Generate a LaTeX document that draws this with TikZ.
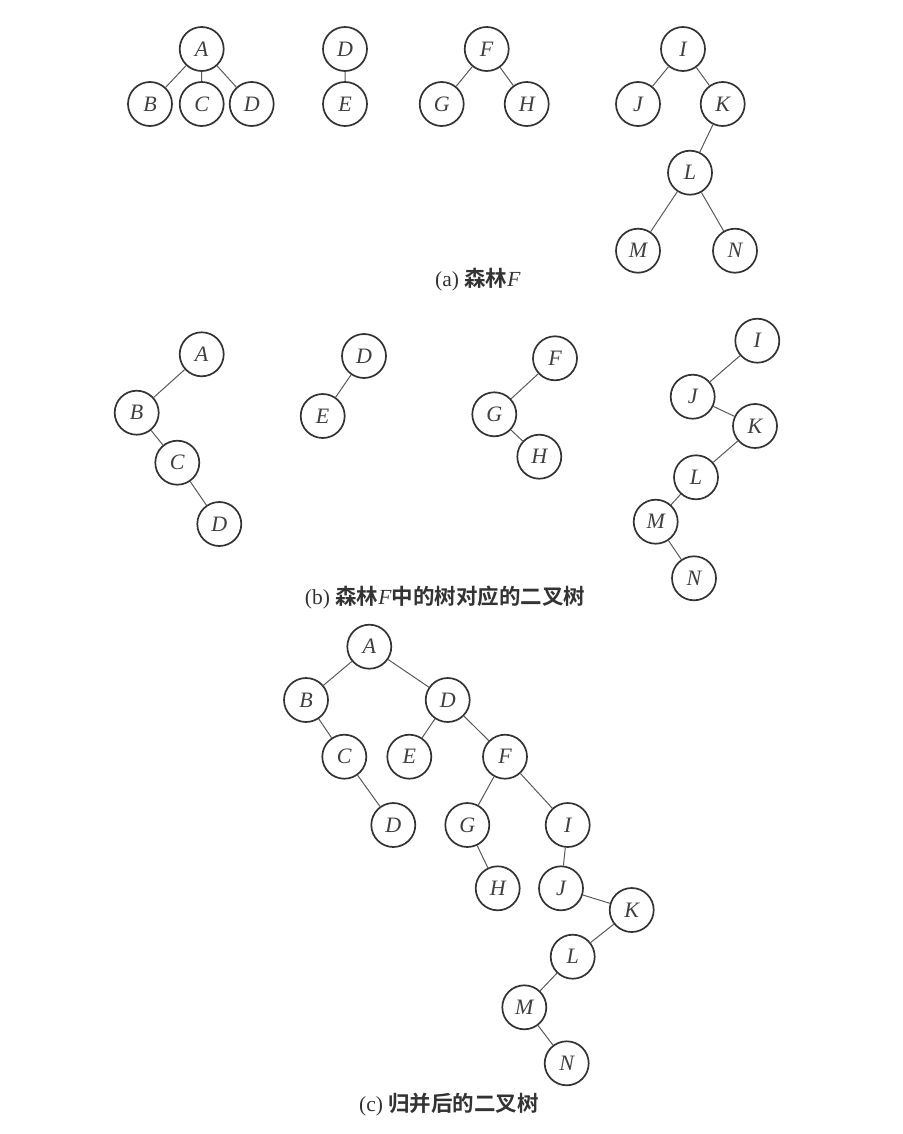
\documentclass[tikz,border=0pt]{standalone}
\usepackage{fontspec}
\setmainfont{Liberation Serif}
\newfontfamily\cjk{Noto Sans CJK SC}[BoldFont={* Bold}]
\tikzset{
  tn/.style={circle,draw=black!80,line width=1.7pt,minimum size=44pt,inner sep=0pt,
    font=\fontsize{22}{22}\selectfont\itshape,text=black!75},
  ed/.style={draw=black!65,line width=1pt},
  captxt/.style={font=\fontsize{21.5}{21.5}\selectfont,text=black!80}
}
\begin{document}
\begin{tikzpicture}[x=1pt,y=-1pt]
\useasboundingbox (0,0) rectangle (902,1134);
% (a)
\node[tn] (aA) at (201.7,49) {A};
\node[tn] (aB) at (150,104) {B};
\node[tn] (aC) at (201.7,104) {C};
\node[tn] (aD) at (251.7,104) {D};
\node[tn] (aD2) at (345,49) {D};
\node[tn] (aE) at (345,104) {E};
\node[tn] (aF) at (486.7,49) {F};
\node[tn] (aG) at (441.7,104) {G};
\node[tn] (aH) at (526.7,104) {H};
\node[tn] (aI) at (683,49) {I};
\node[tn] (aJ) at (638,104) {J};
\node[tn] (aK) at (722.7,104) {K};
\node[tn] (aL) at (690,172.7) {L};
\node[tn] (aM) at (638,250.7) {M};
\node[tn] (aN) at (735,250.7) {N};
\draw[ed] (aA)--(aB) (aA)--(aC) (aA)--(aD) (aD2)--(aE) (aF)--(aG) (aF)--(aH)
  (aI)--(aJ) (aI)--(aK) (aK)--(aL) (aL)--(aM) (aL)--(aN);
\node[captxt] (capa) at (478,280) {(a) {\cjk\bfseries 森林}\textit{F}};
% (b)
\node[tn] (bA) at (201.7,354.3) {A};
\node[tn] (bB) at (136.7,412.7) {B};
\node[tn] (bC) at (177.3,462.7) {C};
\node[tn] (bD) at (219.3,524) {D};
\node[tn] (bD2) at (364,356) {D};
\node[tn] (bE) at (322.7,416) {E};
\node[tn] (bF) at (555,358.3) {F};
\node[tn] (bG) at (494.3,414.3) {G};
\node[tn] (bH) at (539.3,456.7) {H};
\node[tn] (bI) at (757.3,340.7) {I};
\node[tn] (bJ) at (692.7,396.7) {J};
\node[tn] (bK) at (755,426) {K};
\node[tn] (bL) at (696,477.3) {L};
\node[tn] (bM) at (655.7,521.7) {M};
\node[tn] (bN) at (694,578.3) {N};
\draw[ed] (bA)--(bB) (bB)--(bC) (bC)--(bD) (bD2)--(bE) (bF)--(bG) (bG)--(bH)
  (bI)--(bJ) (bJ)--(bK) (bK)--(bL) (bL)--(bM) (bM)--(bN);
\node[captxt] (capb) at (445,598) {(b) {\cjk\bfseries 森林}\textit{F}{\cjk\bfseries 中的树对应的二叉树}};
% (c)
\node[tn] (cA) at (369.3,646.7) {A};
\node[tn] (cB) at (306,700) {B};
\node[tn] (cD) at (447.7,700) {D};
\node[tn] (cC) at (344.3,756.7) {C};
\node[tn] (cE) at (409.3,756.7) {E};
\node[tn] (cF) at (505,756.7) {F};
\node[tn] (cD2) at (393.3,825) {D};
\node[tn] (cG) at (467.3,825) {G};
\node[tn] (cI) at (567.7,825) {I};
\node[tn] (cH) at (497.7,888.3) {H};
\node[tn] (cJ) at (561,888.3) {J};
\node[tn] (cK) at (631.7,910) {K};
\node[tn] (cL) at (572.7,956.7) {L};
\node[tn] (cM) at (524.3,1007.3) {M};
\node[tn] (cN) at (566.7,1063.3) {N};
\draw[ed] (cA)--(cB) (cA)--(cD) (cB)--(cC) (cC)--(cD2) (cD)--(cE) (cD)--(cF)
  (cF)--(cG) (cF)--(cI) (cG)--(cH) (cI)--(cJ) (cJ)--(cK) (cK)--(cL) (cL)--(cM) (cM)--(cN);
\node[captxt] (capc) at (449,1105) {(c) {\cjk\bfseries 归并后的二叉树}};
\end{tikzpicture}
\end{document}
